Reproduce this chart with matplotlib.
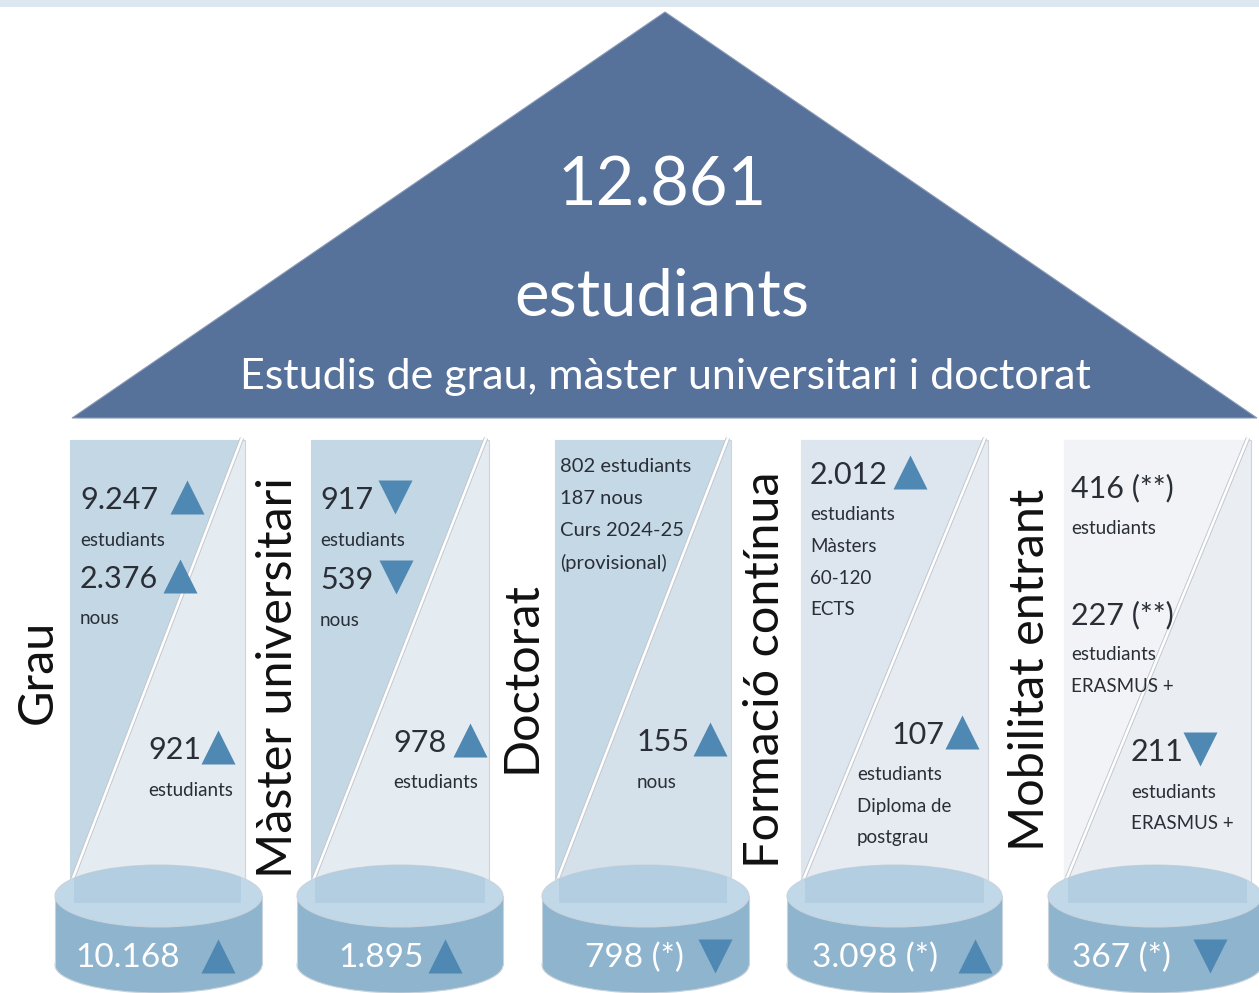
import matplotlib
matplotlib.use("Agg")
import matplotlib.pyplot as plt
from matplotlib.patches import Polygon, Rectangle, Ellipse

# ---------------- data ----------------
total_value = "12.861"
total_label = "estudiants"
total_sub = "Estudis de grau, màster universitari i doctorat"

categories = ["Grau", "Màster universitari", "Doctorat", "Formació contínua", "Mobilitat entrant"]
totals = ["10.168", "1.895", "798 (*)", "3.098 (*)", "367 (*)"]
total_trends = ["up", "up", "down", "up", "down"]

grau_values = ["9.247", "2.376", "921"]
grau_trends = ["up", "up", "up"]
grau_captions = [["estudiants"], ["nous"], ["estudiants"]]

master_values = ["917", "539", "978"]
master_trends = ["down", "down", "up"]
master_captions = [["estudiants"], ["nous"], ["estudiants"]]

doctorat_lines = ["802 estudiants", "187 nous", "Curs 2024-25", "(provisional)"]
doctorat_values = ["155"]
doctorat_trends = ["up"]
doctorat_captions = [["nous"]]

formacio_values = ["2.012", "107"]
formacio_trends = ["up", "up"]
formacio_captions = [["estudiants", "Màsters", "60-120", "ECTS"],
                     ["estudiants", "Diploma de", "postgrau"]]

mobilitat_values = ["416 (**)", "227 (**)", "211"]
mobilitat_trends = [None, None, "down"]
mobilitat_captions = [["estudiants"], ["estudiants", "ERASMUS +"], ["estudiants", "ERASMUS +"]]

# ---------------- layout / style ----------------
W, H = 1259, 993
FONT = ["Lato", "DejaVu Sans"]
DARK = "#2a2e36"
TRI = "#4f88b2"

col_rects = [(70, 245), (311, 489), (555, 731), (801, 988), (1064, 1251)]
col_top = 440
col_left_colors = ["#c4d7e5", "#c4d7e5", "#c5d8e6", "#dde5ee", "#f1f3f6"]
col_right_colors = ["#e5ecf1", "#e5ecf1", "#d4e1ea", "#e5ebf1", "#eaeef2"]
cyl_x = [(55, 262), (297, 503), (542, 749), (787, 1002), (1048, 1262)]
cyl_top_y, cyl_bot_y, cyl_ry = 896, 965, 30
label_pos = [(38, 672), (278, 678), (522, 677), (765, 670), (1030, 670)]
total_pos = [(75, 218), (338, 445), (585, 715), (812, 975), (1072, 1210)]

# (x_text, y_number, x_marker)
entry_pos = [
    [(80, 500, 187), (80, 579, 180), (148, 750, 218)],
    [(320, 500, 395), (320, 580, 396), (393, 743, 470)],
    [(637, 742, 710)],
    [(810, 475, 910), (892, 735, 962)],
    [(1071, 488, None), (1071, 615, None), (1131, 752, 1200)],
]
caption_x_override = {(3, 1): 857}
doct_lines_pos = (560, [467, 499, 531, 563])

entries = [
    list(zip(grau_values, grau_trends, grau_captions)),
    list(zip(master_values, master_trends, master_captions)),
    list(zip(doctorat_values, doctorat_trends, doctorat_captions)),
    list(zip(formacio_values, formacio_trends, formacio_captions)),
    list(zip(mobilitat_values, mobilitat_trends, mobilitat_captions)),
]

fig = plt.figure(figsize=(W / 100, H / 100), dpi=100)
ax = fig.add_axes([0, 0, 1, 1])
ax.set_xlim(0, W)
ax.set_ylim(H, 0)
ax.axis("off")

# top strip
ax.add_patch(Rectangle((0, 0), W, 7, color="#dde7f0", lw=0, zorder=1))

# big triangle
ax.add_patch(Polygon([(665, 12), (72, 418), (1257, 418)], closed=True,
                     facecolor="#56719a", edgecolor="#8a9ab5", lw=0.8, zorder=2))
ax.text(662, 187, total_value, color="white", fontsize=48, ha="center", va="center",
        family=FONT, zorder=3)
ax.text(662, 297, total_label, color="white", fontsize=47, ha="center", va="center",
        family=FONT, zorder=3)
ax.text(665, 377, total_sub, color="white", fontsize=31, ha="center", va="center",
        family=FONT, zorder=3)


def marker(x, y, trend, z=6):
    if trend is None:
        return
    ax.plot([x], [y], marker="^" if trend == "up" else "v", ms=25, color=TRI,
            mec="none", zorder=z)


for i, cat in enumerate(categories):
    l, r = col_rects[i]
    bottom = 905
    # column background
    ax.add_patch(Rectangle((l, col_top), r - l, bottom - col_top, facecolor=col_right_colors[i],
                           edgecolor="#cfd4da", lw=0.8, zorder=2))
    # darker left triangle
    ax.add_patch(Polygon([(l, col_top), (r - 4, col_top), (l + 2, 878), (l, 878)], closed=True,
                         facecolor=col_left_colors[i], edgecolor="none", zorder=2.5))
    # white diagonal line
    ax.plot([r - 3, l + 3], [col_top - 2, 878], color="#c3c8cf", lw=3.2, zorder=2.6,
            solid_capstyle="butt")
    ax.plot([r - 3, l + 3], [col_top - 2, 878], color="white", lw=1.8, zorder=2.7,
            solid_capstyle="butt")

    # cylinder
    cl, cr = cyl_x[i]
    cx, cw = (cl + cr) / 2, cr - cl
    ax.add_patch(Ellipse((cx, cyl_bot_y), cw, 2 * cyl_ry - 4, facecolor="#8fb4ce",
                         edgecolor="#c9d3dc", lw=0.8, zorder=3))
    ax.add_patch(Rectangle((cl, cyl_top_y), cw, cyl_bot_y - cyl_top_y, facecolor="#8fb4ce",
                           edgecolor="none", zorder=3.1))
    ax.plot([cl, cl], [cyl_top_y, cyl_bot_y], color="#c9d3dc", lw=0.8, zorder=3.2)
    ax.plot([cr, cr], [cyl_top_y, cyl_bot_y], color="#c9d3dc", lw=0.8, zorder=3.2)
    top = Ellipse((cx, cyl_top_y), cw, 2 * cyl_ry + 2, facecolor="#c1d8e8",
                  edgecolor="#c9d3dc", lw=0.8, zorder=3.3)
    ax.add_patch(top)
    inner = Rectangle((l + 4, cyl_top_y - cyl_ry - 5), r - l - 8, 42, facecolor="#a9c6dc",
                      alpha=0.55, edgecolor="none", zorder=3.4)
    ax.add_patch(inner)
    inner.set_clip_path(top)
    ax.text(total_pos[i][0], 958, totals[i], color="white", fontsize=24, ha="left",
            va="center", family=FONT, zorder=5)
    marker(total_pos[i][1], 956, total_trends[i])

    # vertical category label
    lx, ly = label_pos[i]
    ax.text(lx, ly, cat, rotation=90, fontsize=35, color="#111111", ha="center",
            va="center", rotation_mode="anchor", family=FONT, zorder=5)

    # entries
    for j, (val, trend, caps) in enumerate(entries[i]):
        x, y, mx = entry_pos[i][j]
        ax.text(x, y, val, fontsize=22, color=DARK, ha="left", va="center", family=FONT,
                zorder=5)
        if mx is not None:
            marker(mx, y - 3, trend)
        capx = caption_x_override.get((i, j), x)
        for k, c in enumerate(caps):
            cy = y + 40 + k * 31.5
            ax.text(capx, cy, c, fontsize=13.5, color=DARK, ha="left", va="center",
                    family=FONT, zorder=5)

# doctorat top lines
dx, dys = doct_lines_pos
for line, yy in zip(doctorat_lines, dys):
    ax.text(dx, yy, line, fontsize=14.5, color=DARK, ha="left", va="center", family=FONT,
            zorder=5)

fig.savefig("out.png", dpi=100, facecolor="white")
